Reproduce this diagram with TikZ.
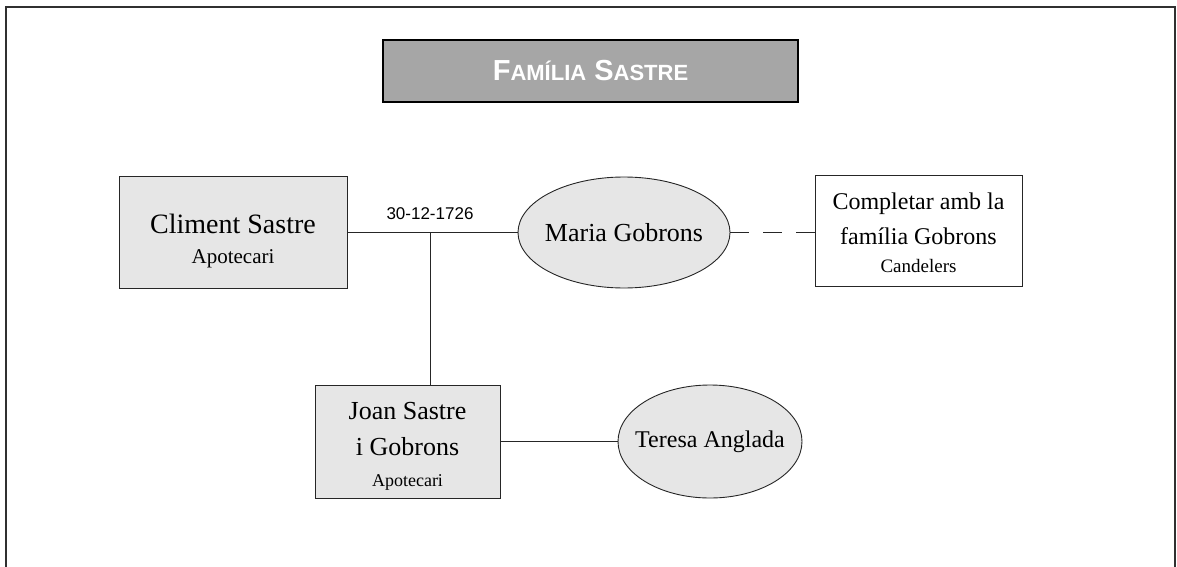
\documentclass[tikz,border=0pt]{standalone}
\usepackage{fontspec}
\setmainfont{Liberation Serif}
\newfontfamily\sansfont{Liberation Sans}
\usetikzlibrary{shapes.geometric}
\definecolor{boxgray}{HTML}{E6E6E6}
\definecolor{titlegray}{HTML}{A6A6A6}
\definecolor{framegray}{HTML}{303030}
\tikzset{
  personbox/.style={draw=black!85, line width=0.9pt, fill=boxgray, rectangle, inner sep=0pt},
  personoval/.style={draw=black!85, line width=0.9pt, fill=boxgray, ellipse, inner sep=0pt},
  link/.style={draw=black!85, line width=0.9pt},
  boxtext/.style={align=center, inner sep=0pt},
}
\begin{document}
\begin{tikzpicture}[x=1pt,y=-1pt]
\useasboundingbox (0,0) rectangle (1177,567);
% frame
\draw[framegray, line width=1.6pt] (6,567) -- (6,7) -- (1175,7) -- (1175,567);
% title
\node[draw=black, line width=2pt, fill=titlegray, minimum width=415, minimum height=62, inner sep=0pt] (title) at (590.5,71)
  {\sansfont\bfseries\color{white}\fontsize{29}{32}\selectfont F{\fontsize{22}{24}\selectfont AMÍLIA} S{\fontsize{22}{24}\selectfont ASTRE}};
% persons
\node[personbox, minimum width=228, minimum height=112] (climent) at (233,232.5) {};
\node[boxtext, font=\fontsize{28}{30}\selectfont] (climentText) at (233,240.8)
  {Climent Sastre\\{\fontsize{21}{30}\selectfont Apotecari}};
\node[personoval, minimum width=212, minimum height=111] (maria) at (624,232.5) {};
\node[boxtext, font=\fontsize{26}{30}\selectfont] (mariaText) at (maria.center) {Maria Gobrons};
\node[personbox, fill=white, minimum width=207, minimum height=111] (completar) at (918.5,230.5) {};
\node[boxtext, font=\fontsize{24}{28}\selectfont] (completarText) at (918.5,232.3)
  {Completar amb la\\[7pt]família Gobrons\\{\fontsize{19}{28}\selectfont Candelers}};
\node[personbox, minimum width=185, minimum height=113] (joan) at (407.5,441.5) {};
\node[boxtext, font=\fontsize{26}{31}\selectfont] (joanText) at (407.5,446.5)
  {Joan Sastre\\[5pt]i Gobrons\\{\fontsize{18}{31}\selectfont Apotecari}};
\node[personoval, minimum width=184, minimum height=113] (teresa) at (710,441.5) {};
\node[boxtext, font=\fontsize{24}{28}\selectfont] (teresaText) at (teresa.center) {Teresa Anglada};
% date label
\node (date) at (430,214) {\sansfont\fontsize{17}{20}\selectfont 30-12-1726};
\coordinate (m) at (430,232.5);
% connectors
\draw[link] (climent.east) -- (maria.west);
\draw[link] (m) -- (m |- joan.north);
\draw[link, dash pattern=on 19pt off 14pt] (maria.east) -- (maria.east -| completar.west);
\draw[link] (joan.east) -- (teresa.west);
\end{tikzpicture}
\end{document}
